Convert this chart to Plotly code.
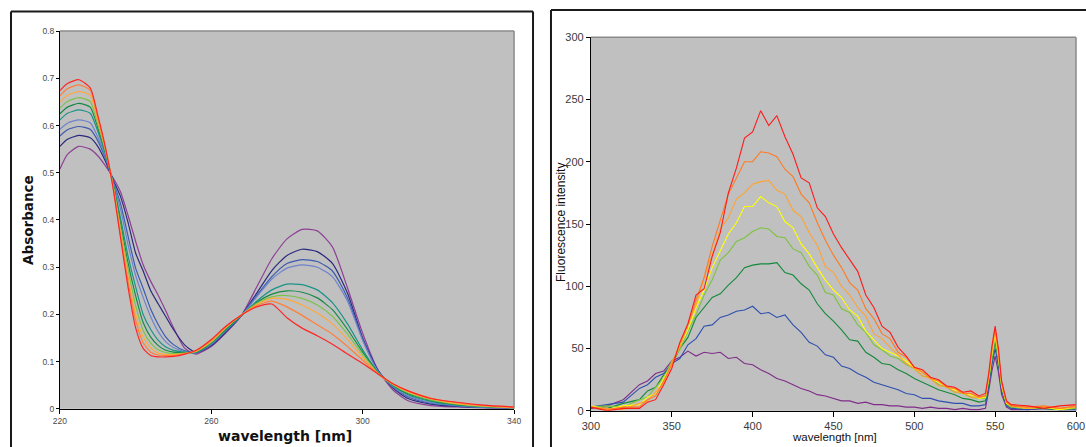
import plotly.graph_objects as go

# ---------------- Absorbance spectra (left panel) ----------------
ABS_NM = [220, 222, 225, 228, 230, 232, 234, 236, 238, 240, 242, 244, 246, 248, 250, 253, 256,
          260, 264, 268, 272, 276, 280, 284, 288, 292, 296, 300, 304, 308, 312, 318, 325, 332, 340]

abs_purple = [0.508, 0.539, 0.556, 0.550, 0.536, 0.515, 0.490, 0.460, 0.410, 0.355, 0.305, 0.270,
              0.240, 0.207, 0.172, 0.128, 0.116, 0.132, 0.162, 0.198, 0.258, 0.318, 0.360, 0.380,
              0.377, 0.343, 0.256, 0.160, 0.083, 0.040, 0.017, 0.007, 0.004, 0.002, 0.001]
abs_navy = [0.556, 0.571, 0.579, 0.574, 0.556, 0.525, 0.486, 0.450, 0.395, 0.330, 0.292, 0.250,
            0.222, 0.195, 0.168, 0.135, 0.119, 0.134, 0.164, 0.198, 0.245, 0.293, 0.325, 0.338,
            0.333, 0.308, 0.245, 0.150, 0.082, 0.044, 0.022, 0.010, 0.005, 0.003, 0.001]
abs_blue = [0.578, 0.591, 0.598, 0.592, 0.568, 0.531, 0.484, 0.435, 0.366, 0.298, 0.255, 0.211,
            0.178, 0.152, 0.136, 0.123, 0.119, 0.136, 0.166, 0.198, 0.240, 0.280, 0.308, 0.316,
            0.312, 0.292, 0.235, 0.148, 0.081, 0.046, 0.025, 0.012, 0.006, 0.003, 0.001]
abs_cornflower = [0.592, 0.605, 0.612, 0.606, 0.576, 0.535, 0.482, 0.424, 0.348, 0.283, 0.236, 0.195,
                  0.163, 0.142, 0.130, 0.121, 0.119, 0.137, 0.167, 0.198, 0.237, 0.275, 0.298, 0.305,
                  0.300, 0.280, 0.228, 0.145, 0.080, 0.047, 0.027, 0.013, 0.007, 0.003, 0.001]
abs_teal = [0.612, 0.626, 0.633, 0.626, 0.588, 0.540, 0.480, 0.405, 0.324, 0.259, 0.200, 0.168,
            0.145, 0.131, 0.124, 0.120, 0.120, 0.139, 0.168, 0.198, 0.228, 0.252, 0.264, 0.263,
            0.252, 0.225, 0.180, 0.125, 0.078, 0.049, 0.030, 0.016, 0.008, 0.004, 0.002]
abs_green = [0.625, 0.639, 0.647, 0.639, 0.596, 0.544, 0.478, 0.395, 0.309, 0.240, 0.183, 0.152,
             0.134, 0.124, 0.120, 0.119, 0.120, 0.140, 0.170, 0.198, 0.225, 0.243, 0.250, 0.247,
             0.235, 0.210, 0.168, 0.120, 0.077, 0.050, 0.032, 0.018, 0.009, 0.005, 0.002]
abs_lightgreen = [0.637, 0.651, 0.659, 0.651, 0.603, 0.547, 0.476, 0.385, 0.296, 0.219, 0.166, 0.139,
                  0.125, 0.119, 0.117, 0.118, 0.121, 0.141, 0.172, 0.199, 0.223, 0.237, 0.240, 0.234,
                  0.220, 0.196, 0.158, 0.115, 0.076, 0.051, 0.034, 0.019, 0.010, 0.005, 0.002]
abs_lightorange = [0.650, 0.664, 0.672, 0.664, 0.610, 0.550, 0.474, 0.375, 0.281, 0.200, 0.152, 0.129,
                   0.118, 0.115, 0.115, 0.117, 0.122, 0.143, 0.173, 0.199, 0.221, 0.234, 0.232, 0.220,
                   0.203, 0.180, 0.147, 0.109, 0.075, 0.052, 0.036, 0.021, 0.011, 0.006, 0.002]
abs_orange = [0.663, 0.678, 0.686, 0.675, 0.617, 0.553, 0.472, 0.370, 0.270, 0.188, 0.140, 0.120,
              0.114, 0.113, 0.113, 0.117, 0.123, 0.145, 0.175, 0.199, 0.219, 0.228, 0.216, 0.198,
              0.178, 0.158, 0.132, 0.103, 0.075, 0.053, 0.038, 0.023, 0.013, 0.007, 0.003]
abs_red = [0.674, 0.689, 0.697, 0.680, 0.622, 0.555, 0.470, 0.363, 0.258, 0.172, 0.128, 0.113,
           0.110, 0.110, 0.111, 0.116, 0.124, 0.147, 0.176, 0.199, 0.216, 0.222, 0.193, 0.171,
           0.155, 0.137, 0.116, 0.096, 0.074, 0.053, 0.038, 0.022, 0.014, 0.008, 0.004]

abs_series = [
    (abs_purple, "#8E3F96"), (abs_navy, "#2A2A7E"), (abs_blue, "#3C5AB0"),
    (abs_cornflower, "#6D83CC"), (abs_teal, "#1A9488"), (abs_green, "#178A45"),
    (abs_lightgreen, "#7DC24B"), (abs_lightorange, "#FFA83A"), (abs_orange, "#FF7F3A"),
    (abs_red, "#FF2525"),
]

ABS_XTICKS = [220, 260, 300, 340]
ABS_YTICKS = [0, 0.1, 0.2, 0.3, 0.4, 0.5, 0.6, 0.7, 0.8]
ABS_YTEXT = ["0", "0.1", "0.2", "0.3", "0.4", "0.5", "0.6", "0.7", "0.8"]

# ---------------- Fluorescence spectra (right panel) ----------------
FL_NM = [300, 310, 320, 330, 335, 340, 345, 350, 355, 360, 365, 370, 375, 380, 385, 390, 395, 400,
         405, 410, 415, 420, 425, 430, 435, 440, 445, 450, 455, 460, 465, 470, 475, 480, 485, 490,
         495, 500, 505, 510, 515, 520, 525, 530, 535, 540, 544, 546, 548, 550, 552, 554, 557, 560,
         570, 580, 590, 600]

fl_red = [3, 0, 2, 2, 7, 9, 21, 34, 55, 70, 93, 98, 124, 143, 175, 195, 219, 224,
          241, 229, 237, 220, 206, 187, 183, 163, 156, 142, 131, 121, 112, 93, 83, 68, 63, 51,
          44, 35, 33, 27, 25, 20, 19, 15, 16, 12, 14, 30, 52, 68, 50, 24, 8, 5,
          4, 2, 4, 5]
fl_orange = [3, 1, 3, 3, 9, 12, 24, 37, 54, 69, 89, 107, 132, 154, 174, 187, 200, 200,
             208, 207, 204, 194, 188, 174, 167, 151, 137, 125, 115, 103, 97, 82, 74, 62, 58, 47,
             43, 35, 31, 26, 24, 19, 18, 14, 14, 11, 12, 28, 50, 66, 48, 22, 7, 4,
             3, 4, 2, 4]
fl_lightorange = [3, 2, 1, 6, 8, 15, 22, 39, 51, 69, 85, 107, 125, 146, 155, 170, 175, 182,
                  184, 185, 177, 174, 161, 156, 143, 133, 116, 111, 100, 93, 83, 76, 62, 58, 51, 45,
                  38, 34, 28, 26, 20, 20, 15, 15, 11, 11, 12, 27, 48, 64, 46, 21, 7, 4,
                  2, 3, 2, 3]
fl_yellow = [4, 1, 4, 5, 11, 14, 26, 37, 52, 65, 83, 97, 115, 129, 142, 151, 164, 164,
             172, 167, 164, 152, 147, 134, 126, 115, 105, 97, 91, 81, 76, 64, 57, 50, 47, 44,
             40, 34, 31, 26, 23, 19, 17, 14, 13, 10, 11, 26, 46, 62, 44, 20, 6, 4,
             2, 3, 1, 3]
fl_lightgreen = [3, 4, 3, 9, 11, 19, 26, 40, 49, 64, 77, 93, 105, 121, 127, 136, 139, 144,
                 147, 146, 140, 139, 130, 127, 116, 109, 95, 93, 82, 79, 69, 63, 53, 49, 44, 42,
                 37, 34, 28, 27, 21, 19, 15, 14, 11, 10, 10, 24, 43, 58, 42, 19, 6, 3,
                 2, 3, 1, 2]
fl_green = [3, 2, 6, 9, 16, 19, 29, 37, 50, 59, 75, 83, 91, 94, 101, 107, 115, 117,
            118, 118, 119, 111, 109, 102, 97, 86, 78, 72, 65, 57, 56, 47, 43, 38, 37, 33,
            30, 26, 23, 20, 17, 15, 13, 10, 9, 7, 8, 22, 41, 55, 40, 18, 5, 3,
            2, 2, 1, 2]
fl_blue = [3, 5, 7, 18, 21, 27, 30, 38, 42, 53, 58, 68, 69, 75, 77, 80, 81, 84,
           78, 79, 75, 77, 69, 63, 55, 52, 45, 43, 36, 34, 30, 27, 23, 21, 19, 17,
           14, 13, 10, 10, 8, 7, 6, 6, 4, 4, 5, 19, 37, 50, 36, 16, 4, 2,
           1, 2, 1, 1]
fl_purple = [2, 4, 9, 21, 24, 30, 32, 40, 43, 48, 44, 47, 46, 47, 42, 43, 38, 37,
             33, 30, 26, 24, 21, 18, 16, 13, 12, 10, 8, 8, 6, 7, 5, 5, 4, 4,
             3, 3, 2, 3, 2, 2, 1, 2, 1, 1, 2, 16, 32, 44, 31, 13, 3, 1,
             1, 2, 1, 1]

fl_series = [
    (fl_purple, "#7F2D88"), (fl_blue, "#2E4FAE"), (fl_green, "#138A3A"),
    (fl_lightgreen, "#7DC242"), (fl_yellow, "#FFFF00"), (fl_lightorange, "#FFA232"),
    (fl_orange, "#FF7A22"), (fl_red, "#FF1A1A"),
]

FL_XTICKS = [300, 350, 400, 450, 500, 550, 600]
FL_YTICKS = [0, 50, 100, 150, 200, 250, 300]

# ---------------- Page geometry ----------------
# The graph occupies the page from (8, 7) with a 1070 x 433 drawing area;
# positions below are page pixels converted to paper fractions.
W, H = 1086, 447
PAGE_X0, PAGE_W = 8.0, 1070.0
PAGE_Y0, PAGE_H = 7.0, 433.0


def px(x):
    return min(1.0, (x - PAGE_X0) / PAGE_W)


def py(y):
    return 1 - (y - PAGE_Y0) / PAGE_H


fig = go.Figure()

for vals, col in abs_series:
    fig.add_trace(go.Scatter(
        x=ABS_NM, y=vals, mode="lines", xaxis="x", yaxis="y",
        line=dict(color=col, width=1.2, shape="spline", smoothing=0.6),
        showlegend=False, hoverinfo="skip"))

for vals, col in fl_series:
    fig.add_trace(go.Scatter(
        x=FL_NM, y=vals, mode="lines", xaxis="x2", yaxis="y2",
        line=dict(color=col, width=1.1),
        showlegend=False, hoverinfo="skip"))

axis_common = dict(showgrid=False, zeroline=False, showline=True, linecolor="black",
                   linewidth=1, ticks="outside", tickcolor="black", tickwidth=1,
                   ticklabeloverflow="allow")

fig.update_layout(
    width=W, height=H,
    margin=dict(l=0, r=0, t=0, b=0),
    paper_bgcolor="white",
    plot_bgcolor="#C0C0C0",
    font=dict(family="Arial, Liberation Sans, sans-serif", color="#000"),
    xaxis=dict(domain=[px(59), px(514)], range=[220, 340], tickvals=ABS_XTICKS,
               ticklen=4, anchor="y",
               tickfont=dict(size=8.5, color="#4a4a4a"), **axis_common),
    yaxis=dict(domain=[py(408), py(32)], range=[0, 0.8], tickvals=ABS_YTICKS,
               ticktext=ABS_YTEXT, ticklen=3, anchor="x",
               tickfont=dict(size=8.5, color="#4a4a4a"), **axis_common),
    xaxis2=dict(domain=[px(591), px(1077)], range=[300, 600], tickvals=FL_XTICKS,
                ticklen=5, anchor="y2",
                tickfont=dict(size=11, color="#3a3a3a"), **axis_common),
    yaxis2=dict(domain=[py(410), py(38)], range=[0, 300], tickvals=FL_YTICKS,
                ticklen=4, anchor="x2",
                tickfont=dict(size=11, color="#3a3a3a"), **axis_common),
)

shapes = []
# outer frames around each panel
frame = dict(type="line", xref="paper", yref="paper", line=dict(color="#1a1a1a", width=2))
shapes += [
    dict(frame, x0=px(10), x1=px(10), y0=-0.1, y1=py(12.5)),
    dict(frame, x0=px(10), x1=px(533), y0=py(12.5), y1=py(12.5)),
    dict(frame, x0=px(533), x1=px(533), y0=-0.1, y1=py(12.5)),
    dict(frame, x0=px(551), x1=px(551), y0=-0.1, y1=py(11)),
    dict(frame, x0=px(551), x1=1.1, y0=py(11), y1=py(11)),
]
# grey border on the top and right of each plotting area
border = dict(type="line", xref="paper", yref="paper", line=dict(color="#8a8a8a", width=1.5))
shapes += [
    dict(border, x0=px(59), x1=px(514), y0=py(32), y1=py(32)),
    dict(border, x0=px(514), x1=px(514), y0=py(408), y1=py(32)),
    dict(border, x0=px(591), x1=px(1077), y0=py(38), y1=py(38)),
    dict(border, x0=px(1077), x1=px(1077), y0=py(410), y1=py(38)),
]
fig.update_layout(shapes=shapes)

annotations = [
    dict(text="<b>Absorbance</b>", x=px(27), y=py(220), textangle=-90,
         font=dict(size=13.5, color="#111", family="DejaVu Sans, Arial, sans-serif")),
    dict(text="<b>wavelength [nm]</b>", x=px(285), y=py(435),
         font=dict(size=14, color="#111", family="DejaVu Sans, Arial, sans-serif")),
    dict(text="Fluorescence intensity", x=px(561), y=py(222), textangle=-90,
         font=dict(size=12, color="#111")),
    dict(text="wavelength [nm]", x=px(835), y=py(436),
         font=dict(size=11.5, color="#111")),
]
for a in annotations:
    a.update(xref="paper", yref="paper", showarrow=False, xanchor="center", yanchor="middle")
fig.update_layout(annotations=annotations)

fig.write_html("out.html")
